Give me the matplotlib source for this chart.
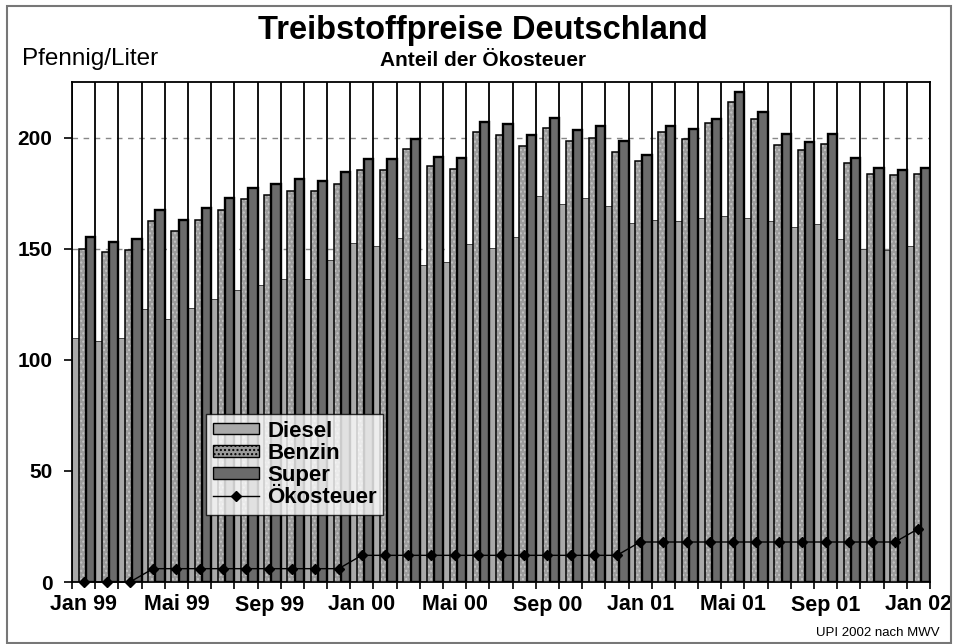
import matplotlib
matplotlib.use("Agg")
import matplotlib.pyplot as plt
from matplotlib.patches import Rectangle, Patch
from matplotlib.lines import Line2D
import numpy as np

plt.rcParams['font.family'] = ['Liberation Sans', 'DejaVu Sans']

months = ["Jan 99", "Feb 99", "Mär 99", "Apr 99", "Mai 99", "Jun 99", "Jul 99", "Aug 99",
          "Sep 99", "Okt 99", "Nov 99", "Dez 99", "Jan 00", "Feb 00", "Mär 00", "Apr 00",
          "Mai 00", "Jun 00", "Jul 00", "Aug 00", "Sep 00", "Okt 00", "Nov 00", "Dez 00",
          "Jan 01", "Feb 01", "Mär 01", "Apr 01", "Mai 01", "Jun 01", "Jul 01", "Aug 01",
          "Sep 01", "Okt 01", "Nov 01", "Dez 01", "Jan 02"]

diesel = [109.6, 108.4, 109.6, 122.8, 118.3, 123.4, 127.3, 131.2, 133.7, 136.3, 136.3, 144.8,
          152.6, 151.2, 155.0, 142.8, 144.0, 152.0, 150.5, 155.3, 173.9, 170.1, 172.8, 169.4,
          161.7, 162.9, 162.3, 163.7, 164.9, 163.7, 162.3, 159.8, 161.0, 154.5, 150.0, 149.3,
          151.4]
benzin = [150.0, 148.7, 149.4, 162.5, 157.8, 162.9, 167.5, 172.2, 174.0, 175.9, 175.9, 179.2,
          185.2, 185.2, 194.7, 187.0, 185.7, 202.6, 201.3, 196.0, 204.4, 198.6, 199.9, 193.4,
          189.6, 202.7, 199.3, 206.5, 216.2, 208.4, 196.8, 194.2, 197.3, 188.4, 183.7, 183.1,
          183.7]
super_ = [155.3, 153.2, 154.5, 167.5, 162.9, 168.1, 172.8, 177.3, 179.0, 181.2, 180.6, 184.3,
          190.2, 190.2, 199.3, 191.4, 190.8, 207.1, 206.3, 201.3, 209.0, 203.2, 205.0, 198.6,
          192.0, 205.1, 203.8, 208.4, 220.7, 211.7, 201.4, 198.1, 201.4, 190.9, 186.4, 185.2,
          186.4]
oekosteuer = [0, 0, 0, 6, 6, 6, 6, 6, 6, 6, 6, 6,
              12, 12, 12, 12, 12, 12, 12, 12, 12, 12, 12, 12,
              18, 18, 18, 18, 18, 18, 18, 18, 18, 18, 18, 18,
              24]
yticks = [0, 50, 100, 150, 200]

c_diesel = "#a9a9a9"
c_benzin = "#9b9b9b"
c_super = "#6b6b6b"

fig = plt.figure(figsize=(9.54, 6.44), dpi=100)
ax = fig.add_axes([72/954, 1-582/644, (930-72)/954, (582-82)/644])

n = len(months)
x = np.arange(n)

ax.set_xlim(-0.5, n - 0.5)
ax.set_ylim(0, 225)

# grid
for yt in yticks[1:]:
    ax.axhline(yt, color="#888888", lw=1.0, ls=(0, (4, 4)), zorder=0)

# separators
for b in np.arange(n + 1) - 0.5:
    ax.axvline(b, color="black", lw=1.3, zorder=1)

ax.bar(x - 0.5, diesel, width=0.42, align='edge', color=c_diesel,
       edgecolor="#444444", linewidth=0.7, zorder=2)
ax.bar(x - 0.5 + 0.29, benzin, width=0.41, align='edge', color=c_benzin,
       edgecolor="#c4c4c4", linewidth=0, hatch="....", zorder=3)
ax.bar(x - 0.5 + 0.29, benzin, width=0.41, align='edge', color="none",
       edgecolor="black", linewidth=1.1, zorder=3.1)
ax.bar(x - 0.5 + 0.6, super_, width=0.4, align='edge', color=c_super,
       edgecolor="black", linewidth=1.7, zorder=4)

ax.plot(x, oekosteuer, color="black", lw=1.0, marker="D", markersize=5,
        markerfacecolor="black", zorder=6, clip_on=False)

ax.set_yticks(yticks)
ax.set_yticklabels([str(v) for v in yticks], fontsize=15, fontweight="bold")
ax.set_xticks(x[::4])
ax.set_xticklabels(months[::4], fontsize=15.5, fontweight="bold")
ax.set_xticks(np.arange(n + 1) - 0.5, minor=True)
ax.tick_params(axis="x", which="major", length=0, pad=9)
ax.tick_params(axis="x", which="minor", length=5, width=1.2, direction="out")
ax.tick_params(axis="y", length=6, width=1.2, direction="out", pad=8)
for s in ax.spines.values():
    s.set_linewidth(1.3)

handles = [Patch(facecolor=c_diesel, edgecolor="black", linewidth=1.0),
           Patch(facecolor=c_benzin, edgecolor="black", linewidth=1.0, hatch="...."),
           Patch(facecolor=c_super, edgecolor="black", linewidth=1.0),
           Line2D([0], [0], color="black", lw=1.0, marker="D", markersize=5)]
leg = ax.legend(handles, ["Diesel", "Benzin", "Super", "Ökosteuer"],
                loc="upper left", bbox_to_anchor=(206/954, 1-414/644),
                bbox_transform=fig.transFigure,
                prop={"size": 16, "weight": "bold"}, frameon=True, fancybox=False,
                handlelength=2.1, handleheight=0.42, handletextpad=0.35,
                labelspacing=0.05, borderpad=0.3, borderaxespad=0)
leg.get_frame().set_edgecolor("black")
leg.get_frame().set_linewidth(1.0)
leg.set_zorder(10)

fig.text(483/954, 1-30/644, "Treibstoffpreise Deutschland", ha="center", va="center",
         fontsize=23.5, fontweight="bold")
fig.text(483/954, 1-60/644, "Anteil der Ökosteuer", ha="center", va="center",
         fontsize=15, fontweight="bold")
fig.text(22/954, 1-59/644, "Pfennig/Liter", ha="left", va="center", fontsize=17.5)
fig.text(940/954, 1-633/644, "UPI 2002 nach MWV", ha="right", va="center", fontsize=9.5)

fig.patches.append(Rectangle((7/954, 1-643/644), (951-7)/954, (643-6)/644,
                             transform=fig.transFigure, fill=False,
                             edgecolor="#777777", linewidth=1.5))

fig.savefig("out.png", dpi=100)
